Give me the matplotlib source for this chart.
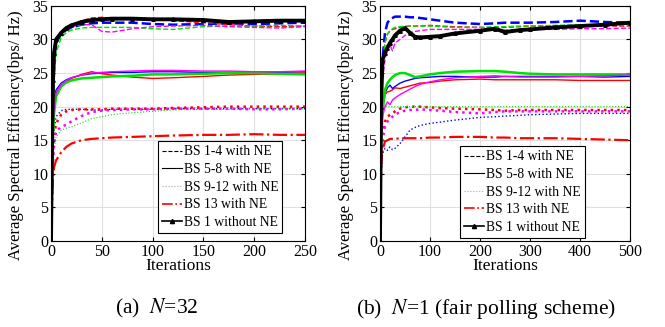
import matplotlib
matplotlib.use("Agg")
import matplotlib.pyplot as plt
from matplotlib.lines import Line2D

plt.rcParams['font.family'] = ['Liberation Serif', 'DejaVu Serif']
plt.rcParams['mathtext.fontset'] = 'stix'

# ---- (a) N=32 ----
xa = [0, 1, 2, 3, 5, 10, 15, 20, 30, 40, 50, 60, 80, 100, 120, 150, 175, 200, 225, 250]
a_nofne = [0, 15, 24, 28, 30, 31, 31.7, 32.1, 32.6, 32.9, 33.0, 33.1, 33.1, 33.0, 33.0, 32.9, 32.6, 32.7, 32.8, 32.8]
a_dash_b = [0, 14, 23, 27, 29.5, 30.8, 31.4, 31.8, 32.2, 32.4, 32.5, 32.5, 32.5, 32.3, 32.2, 32.3, 32.4, 32.3, 32.4, 32.5]
a_dash_r = [0, 14, 23, 27, 29.5, 31, 31.6, 32.0, 32.8, 33.2, 33.3, 33.2, 33.1, 33.0, 32.8, 32.5, 32.2, 32.0, 31.9, 32.0]
a_dash_g = [0, 12, 20, 24, 28, 30.3, 31, 31.4, 31.7, 31.8, 31.8, 31.8, 31.8, 31.6, 31.5, 31.9, 32.0, 32.0, 32.1, 32.0]
a_dash_m = [0, 14, 23, 27, 29.8, 31, 31.5, 31.9, 32.2, 32.2, 31.2, 31.1, 31.6, 31.9, 32.0, 32.1, 31.9, 31.8, 31.7, 31.9]
a_sol_b = [0, 12, 18, 21, 22.5, 23.5, 24, 24.3, 24.7, 24.9, 25.0, 25.1, 25.1, 25.2, 25.2, 25.1, 25.1, 25.1, 25.1, 25.2]
a_sol_r = [0, 12, 18, 20.5, 22, 23, 23.7, 24.2, 24.8, 25.2, 24.9, 24.7, 24.4, 24.2, 24.3, 24.5, 24.7, 24.8, 24.9, 25.0]
a_sol_g = [0, 10, 16, 19, 21.5, 23, 23.6, 23.9, 24.2, 24.3, 24.4, 24.5, 24.6, 24.8, 24.8, 24.9, 25.0, 25.0, 24.9, 24.8]
a_sol_m = [0, 11, 17, 20, 22, 23.3, 23.9, 24.3, 24.7, 25.0, 25.1, 25.2, 25.3, 25.4, 25.4, 25.3, 25.3, 25.2, 25.2, 25.3]
a_dot_b = [0, 9, 14, 16.5, 18.5, 19.4, 19.6, 19.6, 19.6, 19.5, 19.5, 19.6, 19.6, 19.6, 19.7, 19.7, 19.7, 19.7, 19.7, 19.7]
a_dot_r = [0, 8, 13, 15.5, 17.5, 18.8, 19.3, 19.5, 19.6, 19.6, 19.6, 19.7, 19.7, 19.7, 19.8, 19.9, 20.0, 20.0, 20.0, 20.0]
a_dot_g = [0, 6, 11, 13.5, 15.5, 16.5, 16.8, 17.0, 17.6, 18.2, 18.5, 18.8, 19.1, 19.3, 19.5, 19.6, 19.6, 19.7, 19.7, 19.7]
a_dot_m = [0, 7, 12, 14.5, 16.3, 17.0, 17.3, 17.8, 18.6, 19.2, 19.4, 19.5, 19.6, 19.6, 19.7, 19.7, 19.7, 19.6, 19.6, 19.7]
a_bs13 = [0, 6, 9.5, 11, 12, 13.2, 14.0, 14.5, 15.0, 15.2, 15.3, 15.4, 15.5, 15.6, 15.7, 15.8, 15.8, 15.9, 15.8, 15.8]

# ---- (b) N=1 ----
xb = [0, 2, 5, 10, 15, 20, 25, 30, 40, 50, 60, 70, 80, 100, 120, 150, 200, 230, 250, 280, 300, 350, 400, 450, 500]
b_nofne = [0, 20, 27, 28, 28.8, 29.5, 30, 30.6, 31.3, 31.7, 31.0, 30.4, 30.3, 30.4, 30.5, 30.9, 31.3, 31.6, 31.1, 31.4, 31.5, 31.8, 32.0, 32.2, 32.5]
b_dash_b = [0, 22, 27, 31, 32.5, 33, 33.2, 33.4, 33.4, 33.4, 33.3, 33.3, 33.2, 33.0, 32.8, 32.5, 32.3, 32.4, 32.5, 32.5, 32.5, 32.6, 32.8, 32.6, 32.5]
b_dash_r = [0, 20, 26, 29.5, 30.8, 31.3, 31.5, 31.6, 31.8, 31.9, 32.0, 32.0, 32.0, 32.1, 32.0, 31.9, 31.8, 31.7, 31.8, 31.9, 32.0, 32.0, 32.0, 32.0, 32.0]
b_dash_g = [0, 20, 26, 29.5, 30.8, 31.3, 31.6, 31.8, 31.9, 32.0, 32.0, 32.0, 32.0, 32.0, 31.9, 31.8, 31.8, 31.9, 31.9, 32.0, 32.0, 32.1, 32.2, 32.2, 32.3]
b_dash_m = [0, 18, 24, 27, 28.5, 29.2, 28.3, 29.5, 30.0, 30.6, 31.0, 31.2, 31.3, 31.5, 31.5, 31.5, 31.5, 31.5, 31.4, 31.5, 31.5, 31.5, 31.6, 31.6, 31.7]
b_sol_b = [0, 16, 20, 22, 22.8, 23.2, 22.7, 23.0, 23.5, 23.8, 24.0, 24.2, 24.3, 24.4, 24.5, 24.5, 24.4, 24.4, 24.5, 24.5, 24.5, 24.5, 24.5, 24.4, 24.5]
b_sol_r = [0, 15, 19.5, 21.8, 22.2, 22.3, 22.5, 22.8, 22.7, 22.9, 23.1, 23.3, 23.5, 23.6, 23.8, 24.0, 24.1, 24.0, 24.0, 24.0, 24.0, 24.0, 23.9, 23.9, 23.9]
b_sol_g = [0, 14, 19, 22.5, 23.5, 24.0, 24.4, 24.7, 25.0, 25.0, 24.7, 24.4, 24.5, 24.8, 25.0, 25.2, 25.3, 25.3, 25.2, 25.0, 24.9, 24.8, 24.8, 24.8, 24.8]
b_sol_m = [0, 14, 18.5, 20, 20.7, 20.3, 21.0, 21.3, 21.8, 22.2, 22.6, 23.0, 23.3, 23.7, 24.0, 24.3, 24.5, 24.6, 24.5, 24.4, 24.4, 24.4, 24.5, 24.6, 24.7]
b_dot_b = [0, 10, 13, 13.8, 13.5, 14.0, 13.6, 13.8, 14.5, 15.5, 16.5, 16.9, 17.2, 17.5, 17.7, 18.0, 18.4, 18.5, 18.6, 18.7, 18.8, 18.9, 19.0, 19.0, 19.0]
b_dot_r = [0, 12, 16, 17.8, 18.5, 18.8, 19.0, 19.3, 19.7, 19.9, 20.0, 20.0, 20.0, 19.9, 19.8, 19.7, 19.6, 19.5, 19.4, 19.5, 19.5, 19.5, 19.5, 19.5, 19.5]
b_dot_g = [0, 15, 19, 20, 20.1, 20.0, 20.0, 20.0, 20.0, 20.0, 20.0, 20.0, 20.0, 20.0, 20.0, 20.0, 20.0, 20.0, 20.0, 20.0, 20.0, 20.0, 20.0, 20.0, 20.0]
b_dot_m = [0, 11, 15, 17, 17.8, 18.2, 18.5, 18.8, 19.2, 19.4, 19.5, 19.5, 19.6, 19.5, 19.4, 19.2, 19.0, 19.2, 19.3, 19.3, 19.3, 19.3, 19.3, 19.3, 19.3]
b_bs13 = [0, 11, 13.5, 14.8, 15.0, 15.2, 15.2, 15.2, 15.3, 15.3, 15.3, 15.3, 15.3, 15.4, 15.4, 15.5, 15.5, 15.4, 15.4, 15.3, 15.3, 15.3, 15.2, 15.1, 15.0]

labels = ['BS 1-4 with NE', 'BS 5-8 with NE', 'BS 9-12 with NE', 'BS 13 with NE', 'BS 1 without NE']
B, R, G, M = '#0000ff', '#ff0000', '#00e000', '#ff00ff'


def draw(ax, x, dash, sol, dot, bs13, nofne, xmax, xticks, leg_anchor, ylab_x):
    for y, c, w in zip(dot, (B, R, G, M), (1.0, 1.8, 0.8, 1.8)):
        ax.plot(x, y, ':', color=c, lw=w)
    for y, c, w in zip(sol, (B, R, G, M), (1.0, 1.0, 1.8, 1.0)):
        ax.plot(x, y, '-', color=c, lw=w)
    for y, c, w in zip(dash, (B, R, G, M), (1.8, 1.0, 1.0, 1.0)):
        ax.plot(x, y, '--', color=c, lw=w)
    ax.plot(x, bs13, '-.', color=R, lw=1.6)
    ax.plot(x, nofne, '-', color='k', lw=2.8, marker='^', ms=2.5)

    ax.set_xlim(0, xmax)
    ax.set_ylim(0, 35)
    ax.set_xticks(xticks)
    ax.set_yticks(range(0, 36, 5))
    ax.grid(True, color='#e0e0e0', lw=0.8)
    ax.set_axisbelow(True)
    ax.tick_params(direction='in', top=True, right=True, labelsize=11.5, length=3, pad=2)
    for s in ax.spines.values():
        s.set_linewidth(0.8)
    ax.set_xlabel('Iterations', fontsize=12.5, labelpad=-1)
    ax.set_ylabel('Average Spectral Efficiency(bps/ Hz)', fontsize=12)
    ax.yaxis.set_label_coords(ylab_x, 0.45)

    handles = [
        Line2D([], [], ls='--', color='k', lw=0.8),
        Line2D([], [], ls='-', color='k', lw=0.8),
        Line2D([], [], ls=':', color='#aaaaaa', lw=0.8),
        Line2D([], [], ls='-.', color=R, lw=1.2),
        Line2D([], [], ls='-', color='k', lw=1.2, marker='^', ms=3),
    ]
    leg = ax.legend(handles, labels, loc='lower left', bbox_to_anchor=leg_anchor,
                    fontsize=9.8, fancybox=False, edgecolor='k', framealpha=1,
                    handlelength=1.5, handletextpad=0.1, labelspacing=0.34,
                    borderpad=0.3, borderaxespad=0)
    leg.get_frame().set_linewidth(0.8)


fig = plt.figure(figsize=(6.65, 3.27), dpi=100)
ax1 = fig.add_axes([0.0767, 0.263, 0.382, 0.719])
ax2 = fig.add_axes([0.5714, 0.263, 0.376, 0.719])

draw(ax1, xa, (a_dash_b, a_dash_r, a_dash_g, a_dash_m),
     (a_sol_b, a_sol_r, a_sol_g, a_sol_m),
     (a_dot_b, a_dot_r, a_dot_g, a_dot_m),
     a_bs13, a_nofne, 250, [0, 50, 100, 150, 200, 250], (0.42, 0.034), -0.105)
draw(ax2, xb, (b_dash_b, b_dash_r, b_dash_g, b_dash_m),
     (b_sol_b, b_sol_r, b_sol_g, b_sol_m),
     (b_dot_b, b_dot_r, b_dot_g, b_dot_m),
     b_bs13, b_nofne, 500, [0, 100, 200, 300, 400, 500], (0.32, 0.013), -0.105)

fig.text(0.235, 0.04, '(a)  $N$=32', ha='center', fontsize=15.5)
fig.text(0.73, 0.04, '(b)  $N$=1 (fair polling scheme)', ha='center', fontsize=15.5)

fig.savefig('out.png', dpi=100)
